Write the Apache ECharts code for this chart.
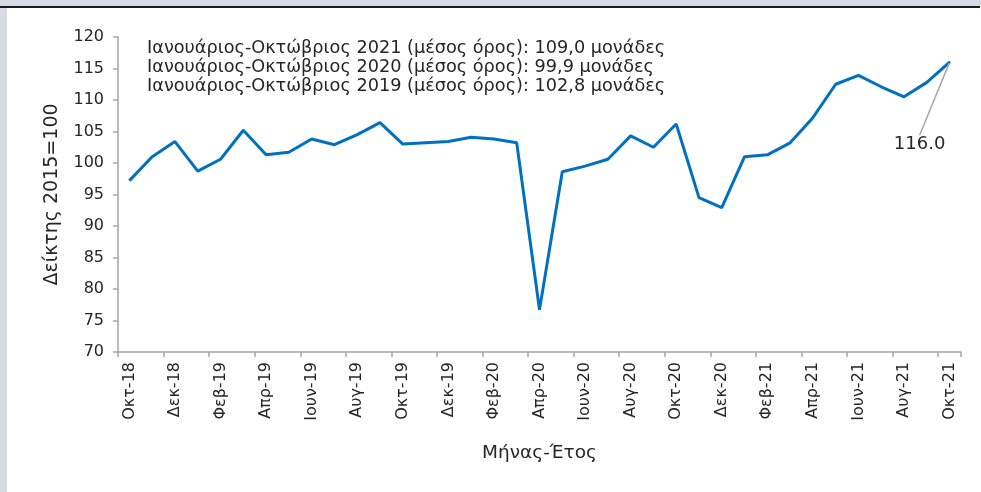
<!DOCTYPE html>
<html>
<head>
<meta charset="utf-8">
<script src="https://cdn.jsdelivr.net/npm/echarts@6/dist/echarts.min.js"></script>
<style>
html,body{margin:0;padding:0;background:#fff;}
#top{position:absolute;left:0;top:0;width:981px;height:6px;background:#d5dce4;}
#line{position:absolute;left:0;top:6px;width:980px;height:2px;background:#1a1a1a;}
#side{position:absolute;left:0;top:8px;width:7px;height:484px;background:#d5dce4;}
#chart{position:absolute;left:0;top:0;width:981px;height:492px;}
</style>
</head>
<body>
<div id="top"></div><div id="line"></div><div id="side"></div>
<div id="chart"></div>
<script>
const categories = ['Οκτ-18','Νοε-18','Δεκ-18','Ιαν-19','Φεβ-19','Μαρ-19','Απρ-19','Μαϊ-19','Ιουν-19','Ιουλ-19','Αυγ-19','Σεπ-19',
 'Οκτ-19','Νοε-19','Δεκ-19','Ιαν-20','Φεβ-20','Μαρ-20','Απρ-20','Μαϊ-20','Ιουν-20','Ιουλ-20','Αυγ-20','Σεπ-20',
 'Οκτ-20','Νοε-20','Δεκ-20','Ιαν-21','Φεβ-21','Μαρ-21','Απρ-21','Μαϊ-21','Ιουν-21','Ιουλ-21','Αυγ-21','Σεπ-21','Οκτ-21'];
const indexValues = [97.2,101.0,103.4,98.7,100.6,105.2,101.3,101.7,103.8,102.9,104.5,106.4,
 103.0,103.2,103.4,104.1,103.8,103.2,76.7,98.6,99.5,100.6,104.3,102.5,
 106.2,94.5,92.9,101.0,101.3,103.2,107.2,112.5,113.9,112.1,110.5,112.8,116.0];
const notes = ['Ιανουάριος-Οκτώβριος 2021 (μέσος όρος): 109,0 μονάδες',
 'Ιανουάριος-Οκτώβριος 2020 (μέσος όρος): 99,9 μονάδες',
 'Ιανουάριος-Οκτώβριος 2019 (μέσος όρος): 102,8 μονάδες'];
const yTicks = {min:70, max:120, interval:5};
const FONT = 'DejaVu Sans';
const lastIdx = indexValues.length - 1;
const seriesData = indexValues.map((v,i)=> i===lastIdx ? {
  value:v,
  symbolSize:2,
  label:{show:true, position:'bottom', distance:2, formatter:(p)=>p.value.toFixed(1),
    fontFamily:FONT, fontSize:18, color:'#262626'},
  labelLine:{show:true, lineStyle:{color:'#a6a6a6', width:1.5}}
} : v);

const chart = echarts.init(document.getElementById('chart'));
chart.setOption({
  animation:false,
  backgroundColor:'transparent',
  title:{
    text: notes.join('\n'),
    left:142, top:34,
    textStyle:{fontFamily:FONT, fontSize:17.7, lineHeight:19, color:'#262626', fontWeight:'normal'}
  },
  grid:{left:118, right:20, top:37, bottom:140, containLabel:false},
  xAxis:{
    type:'category', data:categories, boundaryGap:true,
    name:'Μήνας-Έτος', nameLocation:'middle', nameGap:92,
    nameTextStyle:{fontFamily:FONT, fontSize:18.5, color:'#262626'},
    axisLine:{lineStyle:{color:'#a6a6a6', width:1.5}},
    axisTick:{show:true, interval:1, length:5, lineStyle:{color:'#a6a6a6', width:1.5}},
    axisLabel:{interval:1, rotate:90, margin:10, fontFamily:FONT, fontSize:16, color:'#262626'}
  },
  yAxis:{
    type:'value', min:yTicks.min, max:yTicks.max, interval:yTicks.interval,
    name:'Δείκτης 2015=100', nameLocation:'middle', nameGap:56, nameRotate:90,
    nameTextStyle:{fontFamily:FONT, fontSize:19, color:'#262626'},
    axisLine:{show:true, lineStyle:{color:'#a6a6a6', width:1.5}},
    axisTick:{show:true, length:5, lineStyle:{color:'#a6a6a6', width:1.5}},
    splitLine:{show:false},
    axisLabel:{margin:14, fontFamily:FONT, fontSize:16, color:'#262626'}
  },
  series:[{
    type:'line', data:seriesData,
    showSymbol:true, symbol:'circle', symbolSize:0,
    lineStyle:{color:'#0070c0', width:3},
    itemStyle:{color:'#0070c0'},
    labelLayout:(p)=> p.dataIndex===lastIdx ? {dx:-30, dy:70} : {},
    emphasis:{disabled:true}
  }]
});
</script>
</body>
</html>
